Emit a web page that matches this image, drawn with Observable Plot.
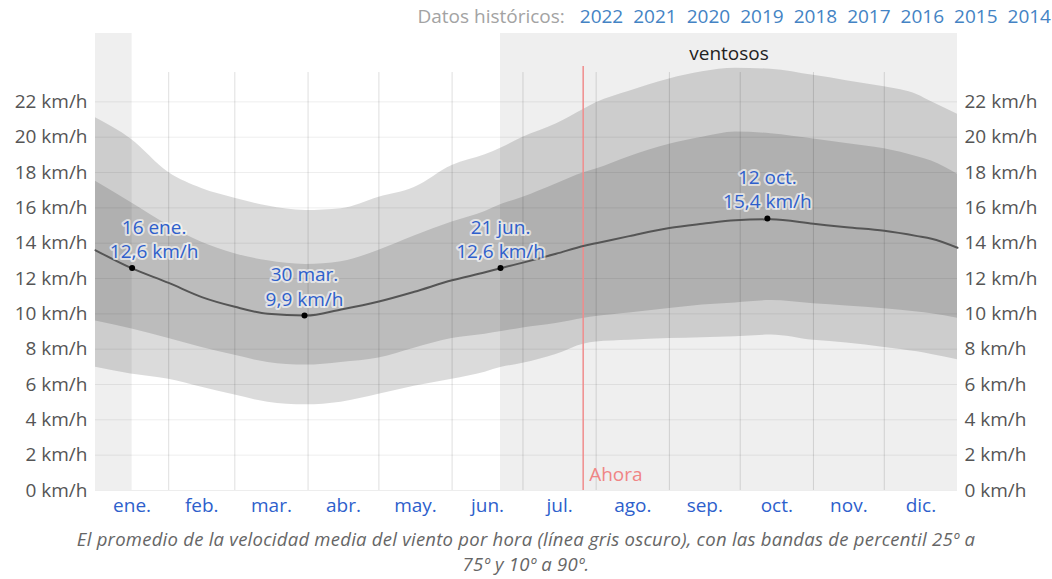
<!DOCTYPE html>
<html><head><meta charset="utf-8">
<script src="https://cdn.jsdelivr.net/npm/d3@7"></script>
<script src="https://cdn.jsdelivr.net/npm/@observablehq/plot@0.6"></script>
<style>
body{margin:0;background:#fff;font-family:"Open Sans",sans-serif;width:1052px;height:579px;overflow:hidden;position:relative}
#chart{position:absolute;top:0;left:0}
#hdr{position:absolute;top:3px;right:1px;font-size:19px;color:#a3a3a3;white-space:nowrap}
#hdr span{color:#4483c4;margin-left:10px}
#cap{position:absolute;top:526px;left:0;width:1052px;text-align:center;font-style:italic;color:#666;font-size:18.5px;line-height:25px;letter-spacing:0.25px}
</style></head>
<body>
<div id="chart"></div>
<div id="hdr">Datos históricos: <span>2022</span><span>2021</span><span>2020</span><span>2019</span><span>2018</span><span>2017</span><span>2016</span><span>2015</span><span>2014</span></div>
<div id="cap">El promedio de la velocidad media del viento por hora (línea gris oscuro), con las bandas de percentil 25º a<br>75º y 10º a 90º.</div>
<script>
// day of year (0 = 1 ene.)
const days = [0,15,31,45,59,73,89,104,120,135,151,165,172,181,195,207,212,226,243,257,271,286,304,318,334,348,354,365];
const p10  = [6.97,6.6,6.3,5.85,5.4,5.0,4.85,5.0,5.45,5.9,6.3,6.7,6.97,7.2,7.7,8.3,8.4,8.5,8.6,8.65,8.7,8.8,8.5,8.35,8.1,7.85,7.7,7.4];
const p25  = [9.6,9.15,8.6,8.1,7.65,7.25,7.1,7.25,7.5,8.05,8.6,8.85,9.0,9.2,9.45,9.75,9.85,10.05,10.3,10.5,10.62,10.75,10.57,10.45,10.29,10.1,10.0,9.75];
const mean = [13.6,12.6,11.75,10.95,10.4,10.0,9.9,10.25,10.7,11.25,11.9,12.35,12.6,12.9,13.4,13.86,14.0,14.4,14.86,15.1,15.3,15.35,15.1,14.9,14.7,14.4,14.25,13.74];
const p75  = [17.5,16.3,15.0,14.05,13.4,13.0,12.8,12.95,13.6,14.4,15.2,15.8,16.2,16.6,17.35,18.0,18.2,18.9,19.6,20.0,20.3,20.2,19.9,19.65,19.35,18.9,18.65,17.9];
const p90  = [21.1,19.9,18.0,17.1,16.55,16.1,15.85,15.95,16.6,17.15,18.4,19.0,19.4,20.0,20.75,21.6,21.95,22.6,23.3,23.7,23.9,23.85,23.5,23.2,22.85,22.4,22.0,21.3];

const monthLabels = ["ene.","feb.","mar.","abr.","may.","jun.","jul.","ago.","sep.","oct.","nov.","dic."];
const monthStarts = [0,31,59,90,120,151,181,212,243,273,304,334,365];
const yTicks = [0,2,4,6,8,10,12,14,16,18,20,22];
const yMax = 25.87;
const gridTop = 24;

const windyStart = [0,171.5];
const windyEnd = [15.5,365];
const windyLabel = "ventosos";
const nowDay = 206.5;
const nowLabel = "Ahora";

const hlDay = [15.5,88.5,171.5,284.5];
const hlValue = [12.6,9.9,12.6,15.4];
const hlDate = ["16 ene.","30 mar.","21 jun.","12 oct."];

const data = days.map((d,i)=>({day:d,p10:p10[i],p25:p25[i],mean:mean[i],p75:p75[i],p90:p90[i]}));
const windy = windyStart.map((s,i)=>({start:s,end:windyEnd[i]}));
const highlights = hlDay.map((d,i)=>({day:d,value:hlValue[i],date:hlDate[i]}));
const monthMids = monthLabels.map((m,i)=>(monthStarts[i]+monthStarts[i+1])/2);
const fmt = v => v.toFixed(1).replace(".",",");
const labelText = d=>d.date+"\n"+fmt(d.value)+" km/h";
const labelStyle = {x:"day",y:"value",text:labelText,lineAnchor:"bottom",dy:-10,lineHeight:1.27,fill:"#2e5fcc",stroke:"#fff",strokeWidth:4,strokeOpacity:0.6,fontSize:19};

const chart = Plot.plot({
  width:1052, height:520,
  marginTop:33, marginBottom:30, marginLeft:95, marginRight:95,
  style:{fontFamily:"'Open Sans', sans-serif", background:"transparent"},
  x:{domain:[0,365]},
  y:{domain:[0,yMax]},
  marks:[
    Plot.rect(windy,{x1:"start",x2:"end",fill:"#efefef"}),
    Plot.areaY(data,{x:"day",y1:"p10",y2:"p90",fill:"#000",fillOpacity:0.14,curve:"monotone-x"}),
    Plot.areaY(data,{x:"day",y1:"p25",y2:"p75",fill:"#000",fillOpacity:0.14,curve:"monotone-x"}),
    Plot.ruleY(yTicks,{stroke:"#000",strokeOpacity:0.07}),
    Plot.ruleX(monthStarts.slice(1,12),{y1:0,y2:gridTop,stroke:"#000",strokeOpacity:0.13,insetBottom:-6}),
    Plot.ruleX([nowDay],{y1:0,y2:gridTop,stroke:"#f08c8c",strokeWidth:1.5}),
    Plot.text([nowLabel],{x:nowDay,y:0,text:d=>d,dx:6,dy:-16,textAnchor:"start",fill:"#f08585",fontSize:19}),
    Plot.text([windyLabel],{x:(windyStart[1]+windyEnd[1])/2,frameAnchor:"top",dy:20,text:d=>d,fill:"#222",fontSize:19,lineAnchor:"middle"}),
    Plot.lineY(data,{x:"day",y:"mean",stroke:"#555",strokeWidth:2,curve:"monotone-x"}),
    Plot.dot(highlights,{x:"day",y:"value",r:3,fill:"#000"}),
    Plot.text(highlights.slice(0,1),{...labelStyle,dx:22}),
    Plot.text(highlights.slice(1),labelStyle),
    Plot.axisY({anchor:"left",ticks:yTicks,tickFormat:d=>`${d} km/h`,tickSize:0,tickPadding:8,fontSize:19,fill:"#555",label:null}),
    Plot.axisY({anchor:"right",ticks:yTicks,tickFormat:d=>`${d} km/h`,tickSize:0,tickPadding:7,fontSize:19,fill:"#555",label:null}),
    Plot.axisX({ticks:monthMids,tickSize:0,tickPadding:8,tickFormat:d=>monthLabels[monthMids.indexOf(d)],fontSize:19,fill:"#2e5fcc",label:null})
  ]
});
document.getElementById("chart").appendChild(chart);
</script>
</body></html>
